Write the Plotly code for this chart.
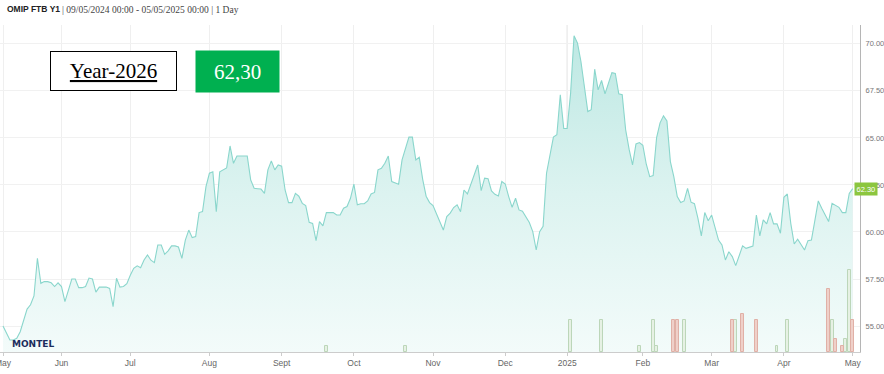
import pandas as pd
import plotly.graph_objects as go

# ---------------- data ----------------
holidays = ["2024-08-15", "2024-12-24", "2024-12-25", "2024-12-26", "2024-12-31",
            "2025-01-01", "2025-04-18", "2025-04-21", "2025-05-01"]
start_date = "2024-05-09"
end_date = "2025-05-02"

prices = [
    55.0, 54.6, 54.26, 54.26, 54.35, 54.7, 55.25, 55.9, 56.13, 56.6,
    58.6, 57.27, 57.36, 57.36, 57.3, 57.1, 57.3, 57.1, 56.3, 56.9,
    57.5, 57.5, 57.04, 57.04, 57.1, 57.55, 57.5, 56.8, 57.07, 57.07,
    57.07, 57.0, 56.03, 57.54, 57.07, 57.1, 57.25, 57.7, 58.07, 58.2,
    58.1, 58.51, 58.78, 58.5, 58.37, 59.31, 59.31, 58.81, 59.0, 59.26,
    59.26, 59.2, 58.6, 59.57, 60.1, 59.7, 59.76, 61.03, 61.08, 62.41,
    63.12, 63.2, 61.08, 63.2, 63.3, 63.4, 64.57, 63.65, 64.04, 64.04,
    64.04, 64.04, 62.77, 62.32, 62.3, 62.28, 62.05, 63.3, 63.78, 63.3,
    63.56, 63.5, 62.23, 61.56, 61.56, 62.05, 61.9, 61.52, 61.4, 60.51,
    60.45, 59.54, 60.55, 60.32, 61.03, 61.03, 61.03, 60.9, 60.9, 61.26,
    61.35, 61.79, 62.54, 61.44, 61.5, 61.5, 61.65, 62.02, 62.1, 63.3,
    63.38, 63.65, 64.04, 62.68, 62.62, 62.54, 63.83, 64.4, 65.04, 65.04,
    63.83, 63.97, 62.8, 61.9, 61.56, 61.4, 60.99, 60.5, 60.1, 60.82,
    61.0, 61.3, 61.44, 61.08, 62.23, 62.02, 62.55, 63.0, 63.56, 62.2,
    62.86, 62.83, 62.18, 62.0, 61.91, 62.68, 62.55, 61.88, 61.31, 61.79,
    61.17, 61.1, 60.8, 60.5, 60.02, 59.04, 60.02, 60.3, 63.12, 64.0,
    65.04, 65.17, 67.29, 65.5, 65.5, 67.38, 70.43, 70.04, 69.06, 67.73,
    66.4, 66.5, 68.65, 67.55, 68.05, 67.34, 67.91, 68.47, 68.43, 67.34,
    67.3, 65.43, 64.4, 63.56, 64.68, 64.75, 64.6, 63.6, 62.94, 63.0,
    65.02, 65.8, 66.17, 65.9, 63.74, 62.94, 61.88, 61.56, 61.65, 62.32,
    61.58, 61.5, 60.73, 59.79, 61.03, 60.6, 60.9, 60.2, 59.57, 59.31,
    58.51, 58.95, 58.69, 58.21, 58.69, 59.26, 59.13, 59.2, 59.25, 60.9,
    59.79, 60.64, 60.43, 61.03, 60.43, 60.43, 59.93, 61.84, 62.02, 60.46,
    59.36, 59.61, 59.3, 59.04, 59.54, 59.57, 60.6, 61.65, 61.26, 60.9,
    60.55, 61.52, 61.4, 61.31, 61.03, 61.03, 62.05, 62.30,
]

buy_dates = ["2024-09-19", "2024-10-22", "2025-01-03", "2025-01-16", "2025-01-31",
             "2025-02-06", "2025-02-07", "2025-02-19", "2025-03-12", "2025-03-28",
             "2025-04-02", "2025-04-23", "2025-04-29", "2025-04-30"]
buy_volumes = [1, 1, 5, 5, 1, 5, 1, 5, 5, 1, 5, 5, 2, 13]

sell_dates = ["2025-02-14", "2025-02-17", "2025-03-11", "2025-03-14", "2025-03-20",
              "2025-04-22", "2025-04-24", "2025-04-28", "2025-05-02"]
sell_volumes = [5, 5, 5, 6, 5, 10, 2, 1, 5]

month_labels = ["May", "Jun", "Jul", "Aug", "Sept", "Oct", "Nov", "Dec",
                "2025", "Feb", "Mar", "Apr", "May"]
y_ticks = [55.0, 57.5, 60.0, 62.5, 65.0, 67.5, 70.0]

title_bold = "OMIP FTB Y1"
title_rest = "| 09/05/2024 00:00 - 05/05/2025 00:00 | 1 Day"
product_label = "Year-2026"
last_price_label = "62,30"

# ---------------- build ----------------
days = pd.bdate_range(start_date, end_date, freq="C", holidays=holidays)
x_dates = days + pd.Timedelta(hours=12)
half = pd.Timedelta(hours=12)

first_of_month = pd.Series(x_dates).groupby([days.year, days.month]).first().tolist()

fig = go.Figure()

fig.add_trace(go.Scatter(
    x=x_dates, y=prices, mode="lines",
    line=dict(color="#8ad6cc", width=1.1),
    fill="tozeroy",
    fillgradient=dict(type="vertical",
                      colorscale=[[0, "#f3fbfa"], [0.5, "#dcf3f0"], [1, "#bde8e3"]],
                      start=53.6, stop=70.5),
    hoverinfo="skip", showlegend=False,
))

fig.add_trace(go.Bar(
    x=[pd.Timestamp(d) + half for d in buy_dates], y=buy_volumes, yaxis="y2",
    width=0.85 * 86400000,
    marker=dict(color="#e6f1e4", line=dict(color="#bcd6b9", width=1)),
    showlegend=False,
))
fig.add_trace(go.Bar(
    x=[pd.Timestamp(d) + half for d in sell_dates], y=sell_volumes, yaxis="y2",
    width=0.85 * 86400000,
    marker=dict(color="#efd0c9", line=dict(color="#e0b0a6", width=1)),
    showlegend=False,
))

W, H = 884, 374
L, R, T, B = 0, 24, 25, 22
pw, ph = W - L - R, H - T - B


def px(xp):
    return (xp - L) / pw


def py(yp):
    return (H - B - yp) / ph


fig.update_layout(
    width=W, height=H,
    margin=dict(l=L, r=R, t=T, b=B, autoexpand=False),
    paper_bgcolor="white", plot_bgcolor="white",
    bargap=0, barmode="overlay",
    font=dict(family="Liberation Sans", color="#666666"),
    xaxis=dict(
        type="date",
        automargin=False,
        range=["2024-05-08 15:00", "2025-05-06 15:00"],
        rangebreaks=[dict(bounds=["sat", "mon"]), dict(values=holidays)],
        tickvals=first_of_month, ticktext=month_labels,
        tickfont=dict(size=8.5, color="#666666"),
        ticklabeloverflow="allow",
        showgrid=True, gridcolor="#efefef", gridwidth=1,
        showline=True, linecolor="#cccccc", linewidth=1,
        ticks="outside", ticklen=3, tickcolor="#cccccc",
        zeroline=False,
    ),
    yaxis=dict(
        side="right",
        automargin=False,
        range=[53.62, 71.0],
        tickvals=y_ticks, ticktext=[f"{v:.2f}" for v in y_ticks],
        tickfont=dict(size=7.5, color="#777777"),
        showgrid=True, gridcolor="#f1f1f1", gridwidth=1,
        showline=True, linecolor="#b5b5b5", linewidth=1,
        zeroline=False, ticklabelstandoff=3,
    ),
    yaxis2=dict(overlaying="y", range=[0, 51.6], visible=False, automargin=False),
    shapes=[dict(type="line", xref="x", yref="paper",
                 x0=first_of_month[8], x1=first_of_month[8], y0=0, y1=1,
                 line=dict(color="#dcdcdc", width=1), layer="below")],
)

fig.add_annotation(xref="paper", yref="paper", x=px(5), y=py(9),
                   xanchor="left", yanchor="middle", showarrow=False,
                   text=f"<b>{title_bold}</b>",
                   font=dict(family="Liberation Sans", size=8.5, color="#222222"))
fig.add_annotation(xref="paper", yref="paper", x=px(60), y=py(9.5),
                   xanchor="left", yanchor="middle", showarrow=False,
                   text=title_rest,
                   font=dict(family="Liberation Serif", size=9.5, color="#444444"))

fig.add_annotation(xref="paper", yref="paper", x=px(113.5), y=py(70.5),
                   xanchor="center", yanchor="middle", showarrow=False,
                   text=f"<u>{product_label}</u>",
                   width=125, height=38, bgcolor="white",
                   bordercolor="#000000", borderwidth=1, borderpad=0,
                   font=dict(family="Liberation Serif", size=21, color="#000000"))
fig.add_annotation(xref="paper", yref="paper", x=px(237.5), y=py(71.5),
                   xanchor="center", yanchor="middle", showarrow=False,
                   text=last_price_label,
                   width=83, height=41, bgcolor="#00b050", borderpad=0,
                   font=dict(family="Liberation Serif", size=21, color="#ffffff"))

fig.add_annotation(xref="paper", yref="y", x=px(854), y=prices[-1],
                   xanchor="left", yanchor="middle", showarrow=False,
                   text=f"{prices[-1]:.2f}", bgcolor="#8cc63f", borderpad=1.5,
                   font=dict(family="Liberation Sans", size=7.5, color="#ffffff"))

fig.add_annotation(xref="paper", yref="paper", x=px(10), y=py(344),
                   xanchor="left", yanchor="middle", showarrow=False,
                   text="<b>MONTEL</b>",
                   font=dict(family="DejaVu Sans", size=9, color="#1c2d5c"))

fig.write_html("out.html",
               config={"displayModeBar": False},
               post_script="document.body.style.margin='0';document.body.style.padding='0';")
